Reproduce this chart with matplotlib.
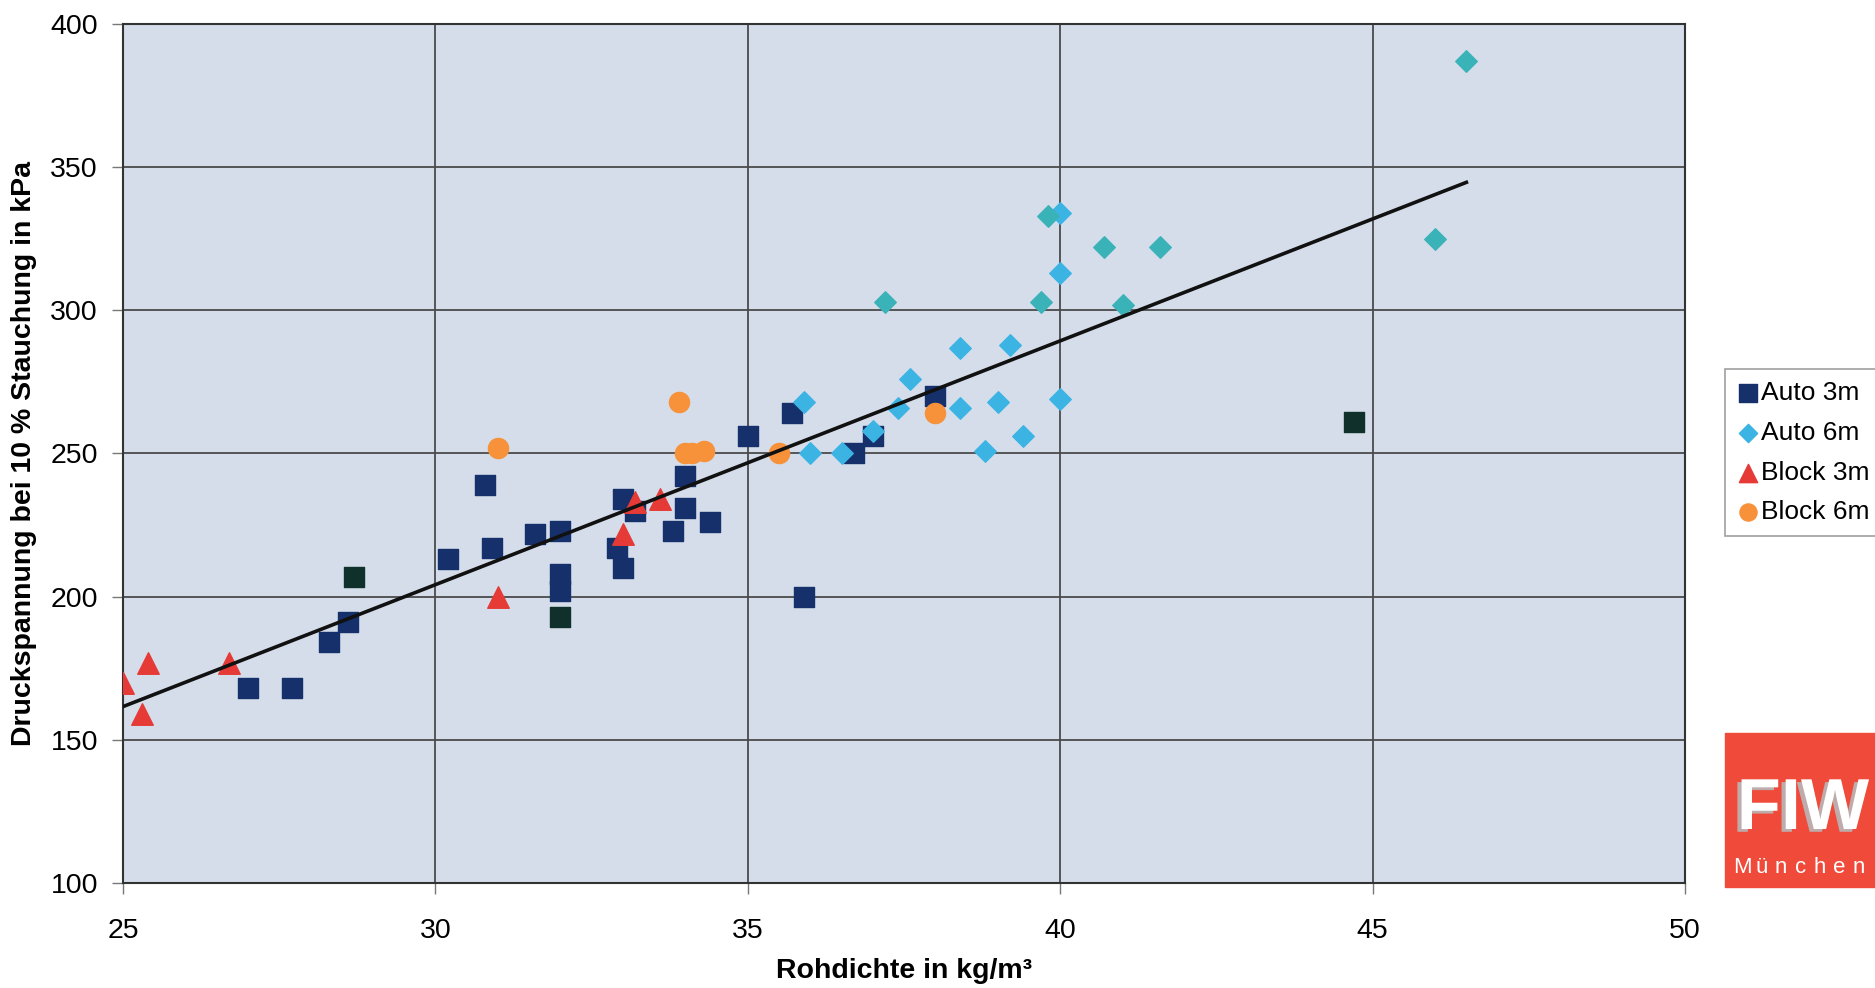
import matplotlib.pyplot as plt
import matplotlib.patheffects as pe
from matplotlib.patches import Rectangle

plt.rcParams['font.family'] = ['Liberation Sans', 'DejaVu Sans']

# Rohdichte (kg/m3) / Druckspannung bei 10 % Stauchung (kPa)
auto3m_x = [27.0, 27.7, 28.3, 28.6, 30.2, 30.8, 30.9, 31.6, 32.0, 32.0, 32.0, 32.9,
            33.0, 33.0, 33.2, 33.8, 34.0, 34.0, 34.4, 35.0, 35.7, 35.9, 36.7, 37.0, 38.0]
auto3m_y = [168, 168, 184, 191, 213, 239, 217, 222, 223, 208, 202, 217,
            210, 234, 230, 223, 242, 231, 226, 256, 264, 200, 250, 256, 270]
auto3m_dark_x = [28.7, 32.0, 44.7]
auto3m_dark_y = [207, 193, 261]

auto6m_x = [35.9, 36.0, 36.5, 37.0, 37.4, 37.6, 38.4, 38.4, 38.8, 39.0, 39.2, 39.4,
            40.0, 40.0, 40.0]
auto6m_y = [268, 250, 250, 258, 266, 276, 287, 266, 251, 268, 288, 256,
            269, 313, 334]
auto6m_teal_x = [37.2, 39.7, 39.8, 40.7, 41.0, 41.6, 46.0, 46.5]
auto6m_teal_y = [303, 303, 333, 322, 302, 322, 325, 387]

block3m_x = [25.0, 25.3, 25.4, 26.7, 31.0, 33.0, 33.2, 33.6]
block3m_y = [170, 159, 177, 177, 200, 222, 233, 234]

block6m_x = [31.0, 33.9, 34.0, 34.1, 34.3, 35.5, 38.0]
block6m_y = [252, 268, 250, 250, 251, 250, 264]

trend_x = [25.0, 46.5]
trend_y = [161.6, 344.7]

fig = plt.figure(figsize=(18.75, 9.88), dpi=100)
ax = fig.add_axes([0.0656, 0.1063, 0.8331, 0.8694])
ax.set_facecolor('#d4dde9')

ax.scatter(auto3m_x, auto3m_y, marker='s', s=220, color='#15306b', zorder=3, label='Auto 3m')
ax.scatter(auto3m_dark_x, auto3m_dark_y, marker='s', s=220, color='#10302c', zorder=3)
ax.scatter(auto6m_x, auto6m_y, marker='D', s=120, color='#3bb4e4', zorder=4, label='Auto 6m')
ax.scatter(auto6m_teal_x, auto6m_teal_y, marker='D', s=120, color='#3ab3b8', zorder=4)
ax.scatter(block3m_x, block3m_y, marker='^', s=240, color='#e63a36', zorder=5, label='Block 3m')
ax.scatter(block6m_x, block6m_y, marker='o', s=210, color='#f7923a', zorder=6, label='Block 6m')
ax.plot(trend_x, trend_y, color='#111111', lw=2.6, zorder=7)

ax.set_xlim(25, 50)
ax.set_ylim(100, 400)
ax.set_xticks(range(25, 51, 5))
ax.set_yticks(range(100, 401, 50))
ax.grid(True, color='#4a4a4a', lw=1.3)
ax.set_axisbelow(True)
for sp in ax.spines.values():
    sp.set_color('#333333')
    sp.set_linewidth(1.5)
ax.tick_params(direction='out', length=8, width=1, color='#777777', labelsize=20.5)
ax.tick_params(axis='y', pad=10)
ax.tick_params(axis='x', pad=17)

fig.text(904 / 1875, 1 - 971 / 988, 'Rohdichte in kg/m³', fontsize=20.5,
         fontweight='bold', ha='center', va='center')
fig.text(24 / 1875, 1 - 453 / 988, 'Druckspannung bei 10 % Stauchung in kPa',
         fontsize=20.5, fontweight='bold', ha='center', va='center', rotation=90)

leg = fig.legend(loc='upper left', bbox_to_anchor=(1725 / 1875, 1 - 369 / 988),
                 borderaxespad=0, fontsize=19, frameon=True, fancybox=False,
                 edgecolor='#888888', handletextpad=0.05, handlelength=0.85,
                 labelspacing=0.6, borderpad=0.45, scatterpoints=1,
                 markerscale=0.85)
leg.get_frame().set_linewidth(1.2)

# logo block
fig.patches.append(Rectangle((1725 / 1875, 101 / 988), 150 / 1875, 154 / 988,
                             transform=fig.transFigure, color='#ef4a3a', zorder=1))
fig.text(1803 / 1875, 178 / 988, 'FIW', color='white', fontsize=52,
         fontweight='bold', ha='center', va='center',
         path_effects=[pe.withSimplePatchShadow(offset=(-3, -2), shadow_rgbFace='#b8b8b8', alpha=0.9)])
for i, ch in enumerate('München'):
    fig.text((1742 + i * 19.5) / 1875, 121 / 988, ch, color='white',
             fontsize=16, ha='center', va='center')

fig.savefig('out.png', dpi=100)
